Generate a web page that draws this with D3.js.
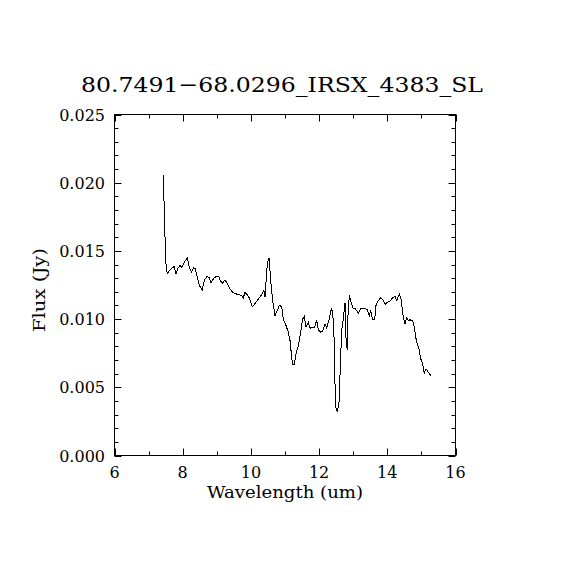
<!DOCTYPE html>
<html><head><meta charset="utf-8">
<script src="https://cdn.jsdelivr.net/npm/d3@7"></script>
<style>body{margin:0;background:#fff}svg{display:block}</style>
</head><body>
<svg id="c" width="570" height="570"></svg>
<script>
const wavelength = [7.431,7.501,7.548,7.607,7.745,7.804,7.853,7.921,7.971,8.047,8.135,8.194,8.264,8.311,8.370,8.428,8.487,8.575,8.633,8.704,8.771,8.830,8.897,8.977,9.056,9.114,9.173,9.241,9.308,9.387,9.466,9.563,9.660,9.730,9.777,9.827,9.894,9.953,10.041,10.100,10.170,10.246,10.317,10.384,10.413,10.481,10.531,10.581,10.639,10.707,10.775,10.833,10.903,10.950,11.029,11.097,11.147,11.196,11.226,11.273,11.323,11.390,11.460,11.519,11.566,11.616,11.683,11.733,11.812,11.859,11.930,11.977,12.047,12.106,12.173,12.223,12.299,12.358,12.399,12.437,12.466,12.487,12.534,12.584,12.633,12.663,12.710,12.760,12.789,12.827,12.848,12.886,12.927,12.985,13.062,13.150,13.220,13.346,13.414,13.472,13.513,13.572,13.630,13.669,13.736,13.806,13.883,13.941,14.000,14.079,14.158,14.226,14.276,14.352,14.402,14.469,14.519,14.569,14.616,14.666,14.745,14.792,14.833,14.880,14.930,14.980,15.038,15.085,15.135,15.202,15.273];
const flux = [0.02053,0.01420,0.01332,0.01356,0.01386,0.01332,0.01369,0.01393,0.01380,0.01417,0.01449,0.01380,0.01344,0.01376,0.01369,0.01307,0.01246,0.01215,0.01283,0.01312,0.01307,0.01263,0.01295,0.01312,0.01312,0.01278,0.01263,0.01288,0.01259,0.01222,0.01197,0.01185,0.01178,0.01173,0.01156,0.01197,0.01178,0.01156,0.01092,0.01107,0.01131,0.01156,0.01180,0.01210,0.01161,0.01405,0.01449,0.01283,0.01136,0.01026,0.01063,0.01100,0.01092,0.01002,0.00953,0.00904,0.00843,0.00721,0.00667,0.00667,0.00746,0.00806,0.00904,0.01002,0.01019,0.00941,0.00977,0.00933,0.00941,0.00936,0.00990,0.00922,0.00904,0.00911,0.00966,0.00936,0.01002,0.01076,0.01051,0.00867,0.00526,0.00354,0.00317,0.00391,0.00721,0.00916,0.01002,0.01120,0.00863,0.00770,0.01039,0.01173,0.01136,0.01083,0.01076,0.01043,0.01076,0.01076,0.01070,0.01026,0.01063,0.00995,0.00995,0.01100,0.01136,0.01156,0.01136,0.01107,0.01124,0.01131,0.01156,0.01166,0.01136,0.01185,0.01149,0.01014,0.00966,0.01010,0.00990,0.00995,0.00985,0.00941,0.00867,0.00819,0.00782,0.00709,0.00672,0.00603,0.00636,0.00611,0.00587];
const xTicks = [6,8,10,12,14,16];
const xMinor = [7,9,11,13,15];
const yTicks = [0,0.005,0.010,0.015,0.020,0.025];
const yMinor = [0.001,0.002,0.003,0.004,0.006,0.007,0.008,0.009,0.011,0.012,0.013,0.014,0.016,0.017,0.018,0.019,0.021,0.022,0.023,0.024];
const title = "80.7491\u221268.0296_IRSX_4383_SL";
const xLabel = "Wavelength (um)";
const yLabel = "Flux (Jy)";

const L=114.5, R=455.5, T=114.5, B=455.5;
const svg = d3.select("#c");
const x = d3.scaleLinear().domain([6,16]).range([L,R]);
const y = d3.scaleLinear().domain([0,0.025]).range([B,T]);
const font = "'DejaVu Serif', 'Liberation Serif', serif";
const maj=7, mnr=4;
const g = svg.append("g").attr("stroke","#000").attr("stroke-width",1).attr("fill","none");
g.append("rect").attr("x",L).attr("y",T).attr("width",R-L).attr("height",B-T);
xTicks.concat(xMinor).forEach(v=>{
  const len = xTicks.includes(v)?maj:mnr;
  const px = Math.round(x(v))+0.5;
  g.append("line").attr("x1",px).attr("x2",px).attr("y1",B).attr("y2",B-len);
  g.append("line").attr("x1",px).attr("x2",px).attr("y1",T).attr("y2",T+len);
});
yTicks.concat(yMinor).forEach(v=>{
  const len = yTicks.includes(v)?maj:mnr;
  const py = Math.round(y(v))+0.5;
  g.append("line").attr("y1",py).attr("y2",py).attr("x1",L).attr("x2",L+len);
  g.append("line").attr("y1",py).attr("y2",py).attr("x1",R).attr("x2",R-len);
});
const pts = wavelength.map((w,i)=>[w,flux[i]]);
svg.append("path").datum(pts).attr("fill","none").attr("stroke","#000").attr("stroke-width",1)
  .attr("shape-rendering","crispEdges")
  .attr("d", d3.line().x(d=>x(d[0])).y(d=>y(d[1])));
const t = svg.append("g").attr("font-family",font).attr("fill","#000");
xTicks.forEach(v=>{
  t.append("text").attr("x",x(v)).attr("y",478).attr("text-anchor","middle").attr("font-size",16).text(v);
});
yTicks.forEach(v=>{
  t.append("text").attr("x",105).attr("y",y(v)+6).attr("text-anchor","end").attr("font-size",16).text(d3.format(".3f")(v));
});
t.append("text").attr("x",285).attr("y",498).attr("text-anchor","middle").attr("font-size",16)
  .attr("textLength",156).attr("lengthAdjust","spacingAndGlyphs").text(xLabel);
t.append("text").attr("transform","translate(45,290) rotate(-90)").attr("text-anchor","middle").attr("font-size",16)
  .attr("textLength",84).attr("lengthAdjust","spacingAndGlyphs").text(yLabel);
t.append("text").attr("x",282).attr("y",92).attr("text-anchor","middle").attr("font-size",21)
  .attr("textLength",402).attr("lengthAdjust","spacingAndGlyphs").text(title);
</script>
</body></html>
